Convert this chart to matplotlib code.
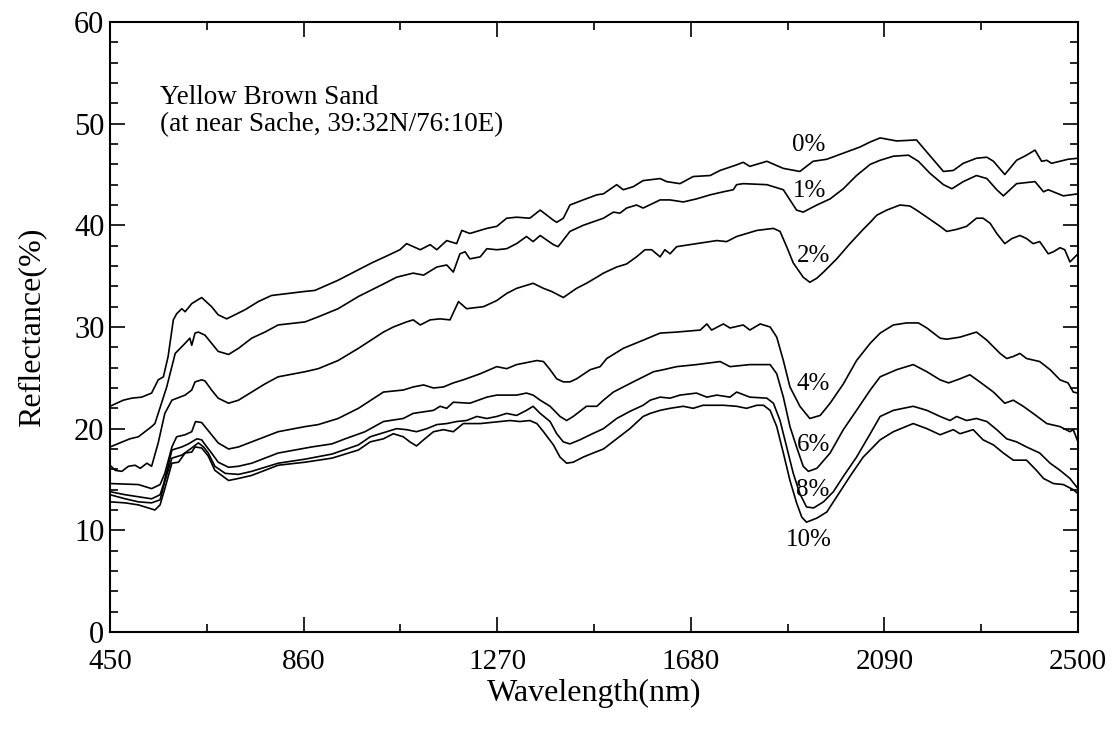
import matplotlib
matplotlib.use("Agg")
import matplotlib.pyplot as plt
from matplotlib.ticker import MultipleLocator

plt.rcParams['font.family'] = ['Liberation Serif', 'DejaVu Serif']

# reflectance (%) of the sand for each moisture content
wl_0 = [450, 478, 496, 517, 538, 552, 563, 573, 584, 591,
        602, 609, 623, 644, 665, 679, 697, 736, 764, 792,
        863, 884, 933, 1004, 1032, 1064, 1078, 1107, 1128, 1142,
        1163, 1184, 1195, 1212, 1248, 1269, 1290, 1311, 1339, 1361,
        1389, 1396, 1410, 1424, 1452, 1481, 1495, 1523, 1537, 1558,
        1579, 1615, 1629, 1657, 1685, 1721, 1742, 1774, 1791, 1805,
        1841, 1876, 1911, 1939, 1968, 2003, 2038, 2060, 2081, 2116,
        2158, 2180, 2215, 2236, 2257, 2285, 2307, 2321, 2345, 2370,
        2391, 2409, 2423, 2434, 2444, 2479, 2500]
r_0 = [22.2, 22.8, 23.0, 23.1, 23.5, 24.8, 25.1, 27.1, 30.7, 31.3,
       31.8, 31.5, 32.3, 32.9, 32.0, 31.2, 30.8, 31.7, 32.5, 33.1,
       33.5, 33.6, 34.6, 36.3, 36.9, 37.6, 38.2, 37.6, 38.1, 37.6,
       38.5, 38.2, 39.5, 39.2, 39.7, 39.9, 40.7, 40.8, 40.7, 41.5,
       40.5, 40.3, 40.7, 42.0, 42.5, 43.0, 43.1, 44.0, 43.5, 43.8,
       44.4, 44.6, 44.3, 44.1, 44.8, 44.9, 45.4, 45.9, 46.2, 45.8,
       46.3, 45.6, 45.3, 46.3, 46.5, 47.1, 47.7, 48.2, 48.6, 48.3,
       48.4, 47.2, 45.3, 45.4, 46.1, 46.6, 46.7, 46.3, 45.0, 46.4,
       46.9, 47.4, 46.3, 46.4, 46.1, 46.5, 46.6]

wl_1 = [450, 471, 492, 510, 538, 545, 552, 570, 588, 609,
        619, 623, 630, 637, 651, 665, 679, 701, 722, 750,
        778, 806, 863, 891, 933, 976, 1032, 1057, 1092, 1114,
        1142, 1163, 1177, 1191, 1202, 1212, 1234, 1248, 1269, 1290,
        1311, 1332, 1346, 1361, 1389, 1399, 1424, 1452, 1495, 1516,
        1530, 1544, 1565, 1579, 1615, 1636, 1664, 1692, 1721, 1749,
        1770, 1777, 1791, 1841, 1876, 1890, 1904, 1918, 1947, 1975,
        2003, 2031, 2060, 2081, 2109, 2141, 2162, 2187, 2215, 2233,
        2257, 2285, 2307, 2328, 2342, 2356, 2370, 2409, 2427, 2437,
        2469, 2500]
r_1 = [18.2, 18.6, 19.0, 19.2, 20.2, 20.5, 21.5, 24.1, 27.4, 28.4,
       28.9, 28.2, 29.4, 29.5, 29.2, 28.4, 27.6, 27.3, 27.9, 28.9,
       29.5, 30.2, 30.5, 31.0, 31.8, 33.0, 34.3, 34.9, 35.3, 35.1,
       35.9, 36.1, 35.4, 37.2, 37.4, 36.7, 36.9, 37.7, 37.6, 37.7,
       38.2, 38.9, 38.4, 39.0, 38.1, 37.9, 39.4, 40.0, 40.7, 41.3,
       41.2, 41.7, 42.0, 41.7, 42.5, 42.5, 42.3, 42.6, 43.0, 43.3,
       43.5, 44.0, 44.1, 44.0, 43.5, 42.5, 41.5, 41.3, 42.0, 42.6,
       43.6, 44.9, 46.0, 46.4, 46.8, 46.9, 46.3, 45.1, 44.0, 43.6,
       44.3, 44.9, 44.6, 43.5, 42.9, 43.5, 44.1, 44.3, 43.3, 43.5,
       42.9, 43.1]

wl_2 = [450, 461, 475, 489, 503, 514, 528, 538, 552, 566,
        581, 609, 623, 630, 644, 651, 665, 679, 701, 722,
        750, 778, 806, 863, 891, 933, 976, 1029, 1050, 1078,
        1092, 1107, 1128, 1149, 1170, 1188, 1205, 1241, 1269, 1290,
        1311, 1346, 1368, 1385, 1410, 1438, 1459, 1481, 1495, 1523,
        1544, 1565, 1583, 1597, 1615, 1625, 1636, 1650, 1692, 1735,
        1756, 1777, 1820, 1855, 1869, 1883, 1897, 1918, 1932, 1947,
        1961, 1989, 2017, 2045, 2060, 2074, 2095, 2123, 2144, 2158,
        2180, 2208, 2222, 2243, 2264, 2285, 2299, 2314, 2328, 2345,
        2360, 2377, 2391, 2405, 2419, 2437, 2448, 2462, 2472, 2483,
        2500]
r_2 = [16.4, 15.9, 15.8, 16.3, 16.4, 16.1, 16.6, 16.3, 18.6, 21.5,
       22.8, 23.3, 23.8, 24.6, 24.8, 24.7, 23.8, 23.0, 22.5, 22.8,
       23.6, 24.4, 25.1, 25.6, 25.9, 26.7, 27.9, 29.5, 30.0, 30.5,
       30.7, 30.2, 30.7, 30.8, 30.7, 32.5, 31.8, 32.0, 32.6, 33.3,
       33.8, 34.3, 33.8, 33.5, 32.9, 33.8, 34.3, 34.9, 35.3, 35.9,
       36.2, 36.9, 37.6, 37.6, 36.9, 37.6, 37.2, 37.9, 38.2, 38.5,
       38.4, 38.9, 39.5, 39.7, 39.4, 37.9, 36.3, 34.9, 34.4, 34.8,
       35.4, 36.7, 38.2, 39.6, 40.3, 41.0, 41.5, 42.0, 41.9, 41.5,
       40.8, 39.9, 39.4, 39.6, 39.9, 40.7, 40.7, 40.2, 39.2, 38.2,
       38.7, 39.0, 38.7, 38.2, 38.4, 37.2, 37.4, 37.8, 37.6, 36.4,
       37.2]

wl_4 = [450, 510, 538, 556, 566, 581, 591, 609, 623, 631,
        644, 651, 665, 679, 701, 722, 750, 778, 806, 863,
        891, 933, 976, 1029, 1071, 1092, 1114, 1135, 1156, 1177,
        1198, 1234, 1269, 1290, 1311, 1354, 1368, 1382, 1396, 1410,
        1424, 1438, 1467, 1488, 1502, 1537, 1579, 1615, 1650, 1700,
        1714, 1724, 1749, 1763, 1791, 1805, 1827, 1848, 1862, 1876,
        1890, 1911, 1932, 1954, 1975, 2003, 2031, 2060, 2081, 2109,
        2137, 2162, 2180, 2208, 2222, 2250, 2285, 2307, 2335, 2349,
        2363, 2377, 2391, 2419, 2441, 2462, 2479, 2490, 2500]
r_4 = [14.6, 14.5, 14.1, 14.5, 15.6, 18.2, 19.2, 19.4, 19.7, 20.7,
       20.6, 20.2, 19.4, 18.6, 18.0, 18.2, 18.7, 19.2, 19.7, 20.2,
       20.4, 21.0, 22.0, 23.6, 23.8, 24.1, 24.3, 24.0, 24.1, 24.5,
       24.8, 25.4, 26.1, 25.9, 26.3, 26.7, 26.6, 25.8, 24.9, 24.6,
       24.6, 24.9, 25.8, 26.1, 26.9, 27.9, 28.7, 29.4, 29.5, 29.7,
       30.3, 29.7, 30.3, 29.9, 30.2, 29.7, 30.3, 30.0, 29.0, 26.7,
       24.1, 22.2, 21.0, 21.3, 22.5, 24.4, 26.7, 28.4, 29.4, 30.2,
       30.4, 30.4, 29.9, 28.9, 28.8, 29.0, 29.5, 28.7, 27.4, 26.9,
       27.1, 27.4, 26.9, 26.6, 25.8, 24.8, 24.5, 23.6, 23.5]

wl_6 = [450, 482, 510, 538, 556, 563, 573, 581, 602, 616,
        634, 644, 655, 665, 679, 701, 722, 750, 778, 806,
        877, 920, 948, 990, 1029, 1071, 1092, 1135, 1149, 1163,
        1177, 1212, 1248, 1269, 1311, 1332, 1346, 1361, 1382, 1403,
        1417, 1431, 1459, 1481, 1495, 1516, 1558, 1601, 1622, 1650,
        1692, 1742, 1763, 1805, 1848, 1862, 1876, 1890, 1904, 1918,
        1929, 1947, 1975, 2003, 2031, 2060, 2081, 2116, 2151, 2180,
        2208, 2226, 2250, 2271, 2292, 2321, 2345, 2363, 2384, 2405,
        2434, 2462, 2483, 2490, 2500]
r_6 = [13.8, 13.5, 13.3, 13.1, 13.5, 14.5, 16.3, 17.9, 18.2, 18.5,
       19.0, 18.9, 18.2, 17.6, 16.7, 16.2, 16.3, 16.6, 17.1, 17.6,
       18.2, 18.5, 19.0, 19.7, 20.7, 21.0, 21.5, 21.8, 22.2, 22.0,
       22.6, 22.5, 23.1, 23.3, 23.3, 23.5, 23.3, 22.8, 22.2, 21.2,
       20.8, 21.2, 22.2, 22.2, 22.8, 23.6, 24.6, 25.6, 25.8, 26.1,
       26.3, 26.6, 26.1, 26.3, 26.3, 25.4, 23.1, 20.2, 18.2, 16.3,
       15.8, 16.1, 17.6, 19.9, 21.8, 23.8, 25.1, 25.8, 26.3, 25.6,
       24.8, 24.5, 24.9, 25.3, 24.6, 23.6, 22.5, 22.8, 22.2, 21.5,
       20.5, 20.2, 19.7, 19.9, 18.7]

wl_8 = [450, 482, 510, 538, 556, 566, 581, 602, 623, 637,
        648, 658, 672, 694, 722, 750, 778, 806, 863, 920,
        976, 1001, 1029, 1057, 1078, 1099, 1121, 1142, 1163, 1184,
        1205, 1227, 1248, 1269, 1290, 1311, 1332, 1346, 1361, 1382,
        1396, 1410, 1424, 1445, 1467, 1495, 1523, 1551, 1579, 1594,
        1615, 1636, 1657, 1692, 1714, 1735, 1763, 1777, 1805, 1841,
        1855, 1869, 1883, 1897, 1911, 1925, 1940, 1961, 1982, 2003,
        2031, 2060, 2081, 2109, 2151, 2180, 2208, 2229, 2243, 2264,
        2285, 2307, 2328, 2349, 2370, 2391, 2419, 2441, 2462, 2483,
        2500]
r_8 = [13.5, 13.1, 12.8, 12.7, 13.0, 14.8, 17.1, 17.4, 18.1, 18.6,
       18.2, 17.6, 16.3, 15.6, 15.5, 15.8, 16.2, 16.6, 17.0, 17.5,
       18.4, 19.2, 19.6, 20.0, 19.9, 19.7, 20.0, 20.4, 20.5, 20.7,
       20.8, 21.2, 21.0, 21.2, 21.5, 21.3, 21.8, 22.2, 21.5, 20.7,
       19.5, 18.7, 18.5, 18.9, 19.4, 20.0, 21.0, 21.7, 22.3, 22.8,
       23.1, 23.0, 23.3, 23.5, 23.1, 23.3, 23.1, 23.6, 23.1, 23.0,
       22.5, 20.8, 18.2, 15.6, 13.6, 12.3, 12.2, 12.8, 13.8, 15.3,
       17.2, 19.5, 21.2, 21.8, 22.2, 21.8, 21.2, 20.8, 21.2, 20.8,
       21.0, 20.7, 19.9, 19.0, 18.7, 18.2, 17.6, 16.6, 15.9, 15.1,
       14.1]

wl_10 = [450, 482, 510, 531, 545, 556, 566, 581, 595, 609,
         623, 630, 644, 658, 672, 701, 722, 750, 778, 806,
         863, 920, 976, 1001, 1029, 1050, 1071, 1085, 1099, 1114,
         1135, 1156, 1177, 1198, 1234, 1276, 1297, 1318, 1339, 1354,
         1368, 1389, 1403, 1417, 1431, 1452, 1473, 1495, 1523, 1551,
         1579, 1594, 1615, 1636, 1664, 1685, 1706, 1749, 1777, 1798,
         1820, 1834, 1848, 1862, 1876, 1890, 1904, 1915, 1925, 1947,
         1968, 1989, 2017, 2045, 2060, 2081, 2109, 2151, 2180, 2208,
         2236, 2250, 2278, 2299, 2321, 2342, 2363, 2391, 2412, 2427,
         2448, 2469, 2490, 2500]
r_10 = [12.8, 12.7, 12.5, 12.2, 12.0, 12.5, 14.1, 16.6, 16.7, 17.6,
        17.7, 18.2, 18.1, 17.3, 15.9, 14.9, 15.1, 15.4, 15.9, 16.4,
        16.7, 17.1, 17.9, 18.7, 19.0, 19.5, 19.2, 18.7, 18.3, 18.9,
        19.7, 19.9, 19.7, 20.5, 20.5, 20.7, 20.8, 20.7, 20.8, 20.5,
        19.7, 18.4, 17.2, 16.6, 16.7, 17.2, 17.6, 18.0, 19.0, 20.0,
        21.2, 21.5, 21.8, 22.0, 22.2, 22.0, 22.3, 22.3, 22.2, 22.0,
        22.3, 22.3, 21.8, 20.2, 17.6, 14.9, 12.7, 11.3, 10.8, 11.2,
        11.8, 13.3, 15.3, 17.2, 17.9, 18.9, 19.7, 20.5, 20.0, 19.4,
        19.9, 19.5, 19.9, 18.9, 18.4, 17.6, 16.9, 16.9, 15.9, 15.1,
        14.6, 14.5, 14.0, 13.6]

curve_labels = ['0%', '1%', '2%', '4%', '6%', '8%', '10%']
label_wl = [1930, 1932, 1939, 1939, 1939, 1939, 1930]
label_r = [47.9, 43.4, 37.0, 24.4, 18.4, 14.0, 9.0]
x_ticks = [450, 860, 1270, 1680, 2090, 2500]

fig = plt.figure(figsize=(11.15, 7.29), dpi=100)
ax = fig.add_axes([0.0987, 0.1331, 0.8681, 0.8367])

for wl, r in [(wl_0, r_0), (wl_1, r_1), (wl_2, r_2), (wl_4, r_4),
              (wl_6, r_6), (wl_8, r_8), (wl_10, r_10)]:
    ax.plot(wl, r, color='black', linewidth=1.2)

for lab, x, y in zip(curve_labels, label_wl, label_r):
    ax.text(x, y, lab, fontsize=18, ha='center', va='center')

ax.text(0.052, 0.897, 'Yellow Brown Sand\n(at near Sache, 39:32N/76:10E)',
        transform=ax.transAxes, fontsize=19.5, va='top', ha='left', linespacing=1.1)

ax.set_xlim(450, 2500)
ax.set_ylim(0, 60)
ax.set_xticks(x_ticks)
ax.set_xticks([(a + b) / 2 for a, b in zip(x_ticks[:-1], x_ticks[1:])], minor=True)
ax.yaxis.set_major_locator(MultipleLocator(10))
ax.yaxis.set_minor_locator(MultipleLocator(2))

ax.tick_params(which='both', direction='in', top=True, right=True, width=1.2)
ax.tick_params(which='major', length=11)
ax.tick_params(which='minor', length=6)
ax.tick_params(axis='x', pad=12, labelsize=21)
ax.tick_params(axis='y', pad=4, labelsize=22)
for s in ax.spines.values():
    s.set_linewidth(1.5)

ax.set_xlabel('Wavelength(nm)', fontsize=23, labelpad=3)
ax.set_ylabel('Reflectance(%)', fontsize=23, labelpad=20)

fig.savefig('out.png', dpi=100)
